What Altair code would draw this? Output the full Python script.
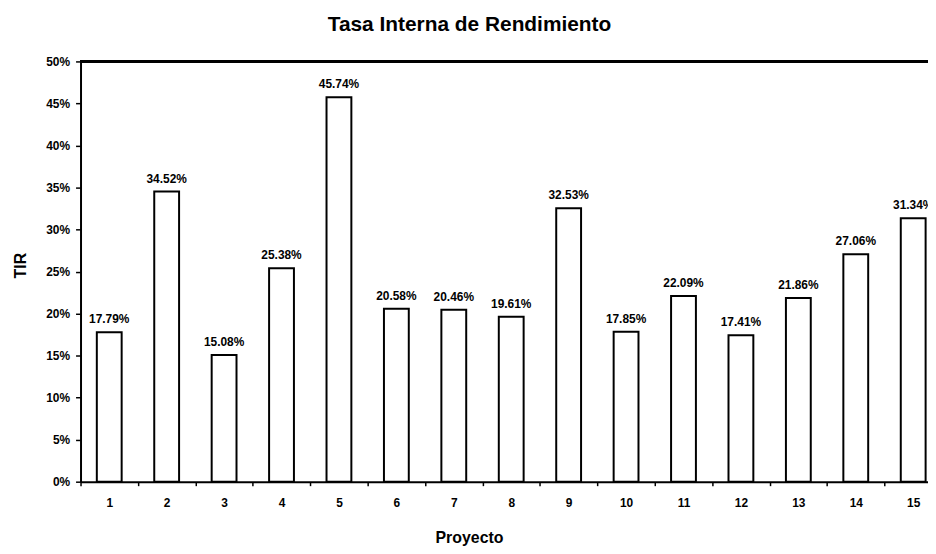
import altair as alt
import pandas as pd

proyectos = ["1", "2", "3", "4", "5", "6", "7", "8", "9", "10", "11", "12", "13", "14", "15"]
tir = [0.1779, 0.3452, 0.1508, 0.2538, 0.4574, 0.2058, 0.2046, 0.1961,
       0.3253, 0.1785, 0.2209, 0.1741, 0.2186, 0.2706, 0.3134]
y_ticks = [0, 0.05, 0.10, 0.15, 0.20, 0.25, 0.30, 0.35, 0.40, 0.45, 0.50]

df = pd.DataFrame({"Proyecto": proyectos, "TIR": tir})

FONT = "Liberation Sans"

x_enc = alt.X(
    "Proyecto:N",
    sort=None,
    scale=alt.Scale(range=[0, 867], paddingInner=0, paddingOuter=0),
    axis=alt.Axis(
        title="Proyecto", labelAngle=0, labelFontSize=12, labelFontWeight="bold",
        labelColor="black", labelFont=FONT, labelPadding=12,
        tickBand="extent", tickSize=4, tickColor="black", tickWidth=1.5,
        domainColor="black", domainWidth=2,
        titleFont=FONT, titleFontSize=16, titleFontWeight="bold", titleColor="black",
        titleX=391, titleY=56, titleBaseline="middle",
    ),
)
y_enc = alt.Y(
    "TIR:Q",
    scale=alt.Scale(domain=[0, 0.5], nice=False),
    axis=alt.Axis(
        title="TIR", values=y_ticks, format=".0%", grid=False,
        labelFontSize=12, labelFontWeight="bold", labelColor="black", labelFont=FONT,
        labelPadding=6, tickSize=5, tickColor="black", tickWidth=1.5,
        domainColor="black", domainWidth=2,
        titleFont=FONT, titleFontSize=16, titleFontWeight="bold", titleColor="black",
        titleX=-60, titleY=205, titleBaseline="middle",
    ),
)

base = alt.Chart(df)
bars = base.mark_bar(fill="white", stroke="black", strokeWidth=2, size=25).encode(
    x=x_enc, y=y_enc
)
labels = base.mark_text(baseline="bottom", dy=-6, fontSize=12, fontWeight="bold",
                        font=FONT, color="black").encode(
    x=x_enc, y=y_enc, text=alt.Text("TIR:Q", format=".2%")
)
top_line = alt.Chart(df).mark_rule(color="black", strokeWidth=2).encode(
    x=alt.value(0), x2=alt.value(880), y=alt.value(0)
)

chart = alt.layer(bars, labels, top_line).properties(
    width=853,
    height=423,
    autosize=alt.AutoSizeParams(type="none"),
    padding={"left": 73, "top": 52, "right": 0, "bottom": 70},
    title=alt.TitleParams(
        "Tasa Interna de Rendimiento", font=FONT, fontSize=21, fontWeight="bold",
        color="black", anchor="middle", dx=-35, offset=21,
    ),
).configure_view(stroke=None)

chart.save("out.html", embed_options={"renderer": "svg", "actions": False})
